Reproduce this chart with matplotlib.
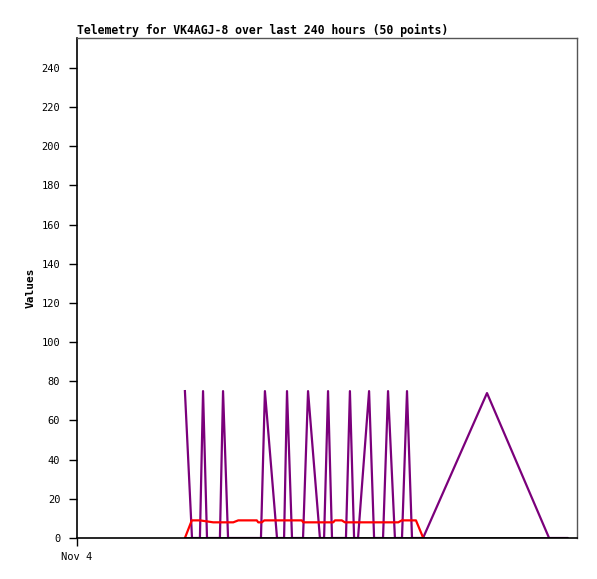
import matplotlib.pyplot as plt

# Hours since Nov 4 00:00 and values
purple_t = [51.8, 55.2, 59.0, 60.5, 62.4, 68.6, 70.1, 72.5, 88.3, 90.2, 96.0,
            99.4, 100.8, 103.2, 108.5, 110.9, 116.6, 118.6, 120.5, 122.4,
            129.1, 131.0, 133.0, 134.9, 140.2, 142.6, 146.9, 149.3, 152.6,
            156.0, 158.4, 160.8, 166.1, 196.8, 226.6, 235.2]
purple_v = [75, 0, 0, 75, 0, 0, 75, 0, 0, 75, 0,
            0, 75, 0, 0, 75, 0, 0, 75, 0,
            0, 75, 0, 0, 75, 0, 0, 75, 0,
            0, 75, 0, 0, 74, 0, 0]

red_t = [51.8, 55.1, 59.0, 65.4, 75.0, 77.4, 86.3, 87.0, 88.7, 89.9, 107.9,
         108.6, 123.0, 123.8, 127.1, 128.6, 154.2, 155.9, 162.7, 166.2]
red_v = [0, 9, 9, 8, 8, 9, 9, 8, 8, 9, 9,
         8, 8, 9, 9, 8, 8, 9, 9, 0]

black_t = [51.8, 235.2]
black_v = [0, 0]

mono = 'DejaVu Sans Mono'

fig = plt.figure(figsize=(5.97, 5.79), dpi=100)
ax = fig.add_axes([77 / 597, 41 / 579, 500 / 597, 500 / 579])

ax.plot(purple_t, purple_v, color='#7b007b', linewidth=1.6)
ax.plot(red_t, red_v, color='#ff0000', linewidth=1.6)
ax.plot(black_t, black_v, color='black', linewidth=1.8)

ax.set_xlim(0, 240)
ax.set_ylim(0, 255.3)
ax.set_yticks(range(0, 241, 20))
ax.set_xticks([0])
ax.set_xticklabels(['Nov 4'])
ax.tick_params(direction='out', length=6, width=1, labelsize=7.5)
ax.tick_params(axis='y', pad=6)
ax.tick_params(axis='x', pad=4)
for lbl in ax.get_xticklabels() + ax.get_yticklabels():
    lbl.set_family(mono)

for s in ['left', 'bottom']:
    ax.spines[s].set_color('black')
    ax.spines[s].set_linewidth(1.2)
for s in ['top', 'right']:
    ax.spines[s].set_color('#555555')
    ax.spines[s].set_linewidth(1)

ax.set_ylabel('Values', family=mono, fontweight='bold', fontsize=8)
ax.set_title('Telemetry for VK4AGJ-8 over last 240 hours (50 points)',
             family=mono, fontweight='bold', fontsize=8.3, loc='left', pad=3)

fig.savefig('out.png', dpi=100)
